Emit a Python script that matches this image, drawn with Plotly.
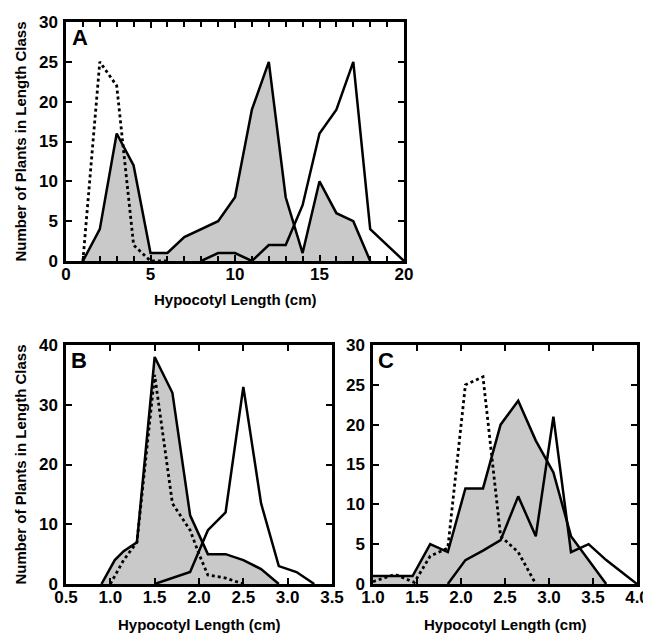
import plotly.graph_objects as go

# ---------------- Panel A ----------------
a_gray_x = [1, 2, 3, 4, 5, 6, 7, 8, 9, 10, 11, 12, 13, 14, 15, 16, 17, 18]
a_gray_y = [0, 4, 16, 12, 1, 1, 3, 4, 5, 8, 19, 25, 8, 1, 10, 6, 5, 0]
a_dash_x = [1, 2, 3, 4, 5, 6]
a_dash_y = [0, 25, 22, 2, 0, 0]
a_solid_x = [8, 9, 10, 11, 12, 13, 14, 15, 16, 17, 18, 19, 20]
a_solid_y = [0, 1, 1, 0, 2, 2, 7, 16, 19, 25, 4, 2, 0]

# ---------------- Panel B ----------------
b_gray_x = [0.9, 1.05, 1.15, 1.3, 1.5, 1.7, 1.9, 2.1, 2.3, 2.5, 2.7, 2.9]
b_gray_y = [0, 4, 5.5, 7, 38, 32, 11.5, 5, 5, 4, 2.5, 0]
b_dash_x = [1.0, 1.15, 1.3, 1.5, 1.7, 1.9, 2.0, 2.1, 2.3, 2.5]
b_dash_y = [0, 4, 7, 35, 13.5, 9, 5, 1.5, 1, 0]
b_solid_x = [1.5, 1.9, 2.1, 2.3, 2.5, 2.7, 2.9, 3.1, 3.3]
b_solid_y = [0, 2, 9, 12, 33, 13.5, 3, 2, 0]

# ---------------- Panel C ----------------
c_gray_x = [1.0, 1.25, 1.45, 1.65, 1.85, 2.05, 2.25, 2.45, 2.65, 2.85, 3.05, 3.25, 3.45, 3.65]
c_gray_y = [1, 1, 1, 5, 4, 12, 12, 20, 23, 18, 14, 6, 3, 0]
c_dash_x = [1.0, 1.25, 1.47, 1.65, 1.85, 2.05, 2.25, 2.45, 2.65, 2.85]
c_dash_y = [0.3, 1.2, 0.2, 3.5, 4.5, 25, 26, 6, 4, 0]
c_solid_x = [1.85, 2.05, 2.25, 2.45, 2.65, 2.85, 3.05, 3.25, 3.45, 3.65, 3.85, 4.0]
c_solid_y = [0, 3, 4.2, 5.5, 11, 6, 21, 4, 5, 3, 1.3, 0]

x_title = "Hypocotyl Length (cm)"
y_title = "Number of Plants in Length Class"

OFF = 8  # page body margin
W, H = 651 - OFF, 635 - OFF
FONT = "Liberation Sans, Arial, sans-serif"
GRAY = "#c9c9c9"

fig = go.Figure()

def add_panel(xa, ya, gx, gy, dx, dy, sx, sy):
    fig.add_trace(go.Scatter(x=gx, y=gy, mode="lines", fill="tozeroy",
                             fillcolor=GRAY, line=dict(color="black", width=2.5),
                             xaxis=xa, yaxis=ya, showlegend=False, hoverinfo="skip"))
    fig.add_trace(go.Scatter(x=dx, y=dy, mode="lines",
                             line=dict(color="black", width=2.8, dash="dot"),
                             xaxis=xa, yaxis=ya, showlegend=False, hoverinfo="skip"))
    fig.add_trace(go.Scatter(x=sx, y=sy, mode="lines",
                             line=dict(color="black", width=2.5),
                             xaxis=xa, yaxis=ya, showlegend=False, hoverinfo="skip"))

add_panel("x", "y", a_gray_x, a_gray_y, a_dash_x, a_dash_y, a_solid_x, a_solid_y)
add_panel("x2", "y2", b_gray_x, b_gray_y, b_dash_x, b_dash_y, b_solid_x, b_solid_y)
add_panel("x3", "y3", c_gray_x, c_gray_y, c_dash_x, c_dash_y, c_solid_x, c_solid_y)

def px_x(a, b):
    return [(a - OFF) / W, (b - OFF) / W]

def px_y(top, bottom):
    return [1 - (bottom - OFF) / H, 1 - (top - OFF) / H]

tickfont = dict(family=FONT, size=17, color="black", weight="bold")
titlefont = dict(family=FONT, size=15, color="black", weight="bold")

def xaxis(domain, anchor, rng, dtick, minor, fmt):
    return dict(domain=domain, anchor=anchor, range=rng, dtick=dtick, tick0=rng[0],
                tickformat=fmt, ticks="inside", ticklen=6, tickwidth=2, tickcolor="black",
                minor=dict(dtick=minor, tick0=rng[0], ticks="inside", ticklen=5,
                           tickwidth=2, tickcolor="black"),
                showline=True, linecolor="black", linewidth=2.5, mirror="ticks",
                showgrid=False, zeroline=False, tickfont=tickfont, automargin=False,
                layer="above traces", ticklabelstandoff=-4)

def yaxis(domain, anchor, rng, dtick):
    return dict(domain=domain, anchor=anchor, range=rng, dtick=dtick, tick0=0,
                ticks="inside", ticklen=6, tickwidth=2, tickcolor="black",
                showline=True, linecolor="black", linewidth=2.5, mirror="ticks",
                showgrid=False, zeroline=False, tickfont=tickfont, automargin=False,
                layer="above traces", ticklabelstandoff=2)

fig.update_layout(
    width=W, height=H, autosize=False,
    margin=dict(l=0, r=0, t=0, b=0, pad=0),
    paper_bgcolor="white", plot_bgcolor="white",
    xaxis=xaxis(px_x(66, 404), "y", [0, 20], 5, 1, "d"),
    yaxis=yaxis(px_y(22, 261), "x", [0, 30], 5),
    xaxis2=xaxis(px_x(66, 332), "y2", [0.5, 3.5], 0.5, 0.5, ".1f"),
    yaxis2=yaxis(px_y(345, 584), "x2", [0, 40], 10),
    xaxis3=xaxis(px_x(373, 637), "y3", [1, 4], 0.5, 0.5, ".1f"),
    yaxis3=yaxis(px_y(345, 584), "x3", [0, 30], 5),
)

# panel letters
for lab, xr, yr in [("A", "x domain", "y domain"), ("B", "x2 domain", "y2 domain"),
                    ("C", "x3 domain", "y3 domain")]:
    fig.add_annotation(text=lab, xref=xr, yref=yr, x=0.012, y=0.995,
                       xanchor="left", yanchor="top", showarrow=False,
                       font=dict(family=FONT, size=22, color="black", weight="bold"))

# x-axis titles
for xr, yr, ys in [("x domain", "y domain", -39), ("x2 domain", "y2 domain", -40),
                   ("x3 domain", "y3 domain", -40)]:
    fig.add_annotation(text=x_title, xref=xr, yref=yr, x=0.5, y=0, yshift=ys,
                       xanchor="center", yanchor="middle", showarrow=False,
                       font=titlefont)

# y-axis titles
for xr, yr in [("x domain", "y domain"), ("x2 domain", "y2 domain")]:
    fig.add_annotation(text=y_title, xref=xr, yref=yr, x=0, y=0.5, xshift=-46,
                       textangle=-90, xanchor="center", yanchor="middle",
                       showarrow=False, font=titlefont)

fig.write_html("out.html", config={"responsive": False})
